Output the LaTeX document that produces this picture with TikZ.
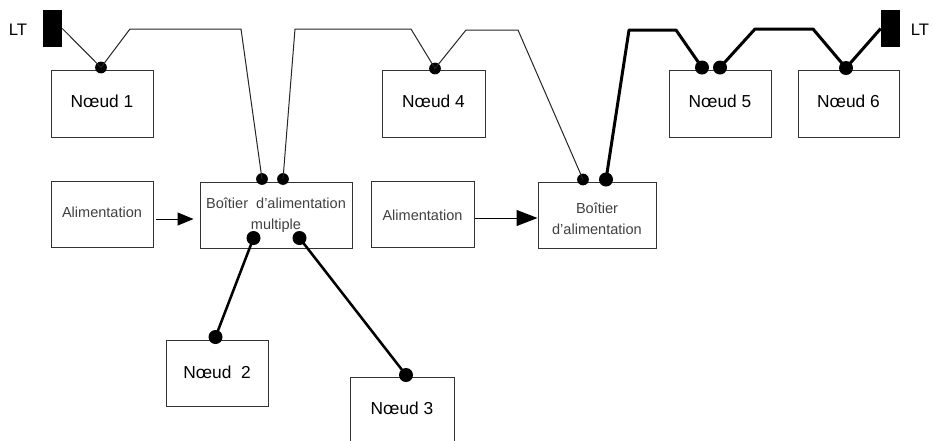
\documentclass[tikz,border=0pt]{standalone}
\usepackage{fontspec}
\setmainfont{Liberation Sans}
\usetikzlibrary{arrows.meta}
\tikzset{
  x=0.75pt,y=-0.75pt,
  nbox/.style={draw=black!80,line width=0.75pt,fill=white,inner sep=0pt,align=center,font=\fontsize{13pt}{15pt}\selectfont,text=black},
  abox/.style={nbox,font=\fontsize{10.9pt}{15.7pt}\selectfont,text=black!75},
  dotS/.style={circle,fill=black,inner sep=0pt,minimum size=8.8pt},
  dotM/.style={circle,fill=black,inner sep=0pt,minimum size=10.5pt},
  term/.style={fill=black,inner sep=0pt,minimum width=14.25pt,minimum height=27.75pt},
  wire/.style={line width=0.75pt,black!85},
  bus/.style={line width=2.25pt,black,line join=round},
  stub/.style={line width=1.9pt,black},
  feed/.style={line width=0.75pt,black,-{Triangle[length=12pt,width=9.75pt]}},
  feedb/.style={line width=0.75pt,black,-{Triangle[length=15.75pt,width=12pt]}},
  lt/.style={inner sep=0pt,font=\fontsize{12.5pt}{14pt}\selectfont}
}
\newcommand{\bx}[7][nbox]{\node[#1,minimum width={(#5-#3)*0.75pt},minimum height={(#6-#4)*0.75pt}] (#2) at ({(#3+#5)/2},{(#4+#6)/2}) {#7};}
\begin{document}
\begin{tikzpicture}
\useasboundingbox (0,0) rectangle (933,440);
\clip (0,0) rectangle (933,440);
\fill[white] (0,0) rectangle (933,440);
% boxes
\bx[nbox,text height=9.3pt,text depth=3.7pt]{n1}{51}{70}{153}{137}{N\oe ud 1}
\bx[nbox,text height=9.3pt,text depth=3.7pt]{n4}{382}{70}{485}{137}{N\oe ud 4}
\bx[nbox,text height=9.3pt,text depth=3.7pt]{n5}{669}{70}{771}{137}{N\oe ud 5}
\bx[nbox,text height=9.3pt,text depth=3.7pt]{n6}{798}{70}{899}{137}{N\oe ud 6}
\bx[nbox,text height=9.3pt,text depth=1.5pt]{n2}{166}{340}{268}{406}{N\oe ud\ \ 2}
\bx[nbox,text height=9.3pt,text depth=3pt]{n3}{350}{377}{454}{443}{N\oe ud 3}
\bx[abox,text height=7.8pt,text depth=3pt]{a1}{51}{181}{153}{247}{Alimentation}
\bx[abox,text height=9.3pt,text depth=0pt]{a2}{371}{181}{474}{247}{Alimentation}
\bx[abox]{bm}{200}{182}{352}{248}{Bo\^itier\ \ d'alimentation\\multiple}
\bx[abox]{bs}{538}{182}{656}{248}{\rule{0pt}{13pt}Bo\^itier\\d'alimentation}
% terminators
\node[term] (ltl) at (52.5,28.5) {};
\node[term] (ltr) at (890.5,28.5) {};
\node[lt] (ltla) at (18,30) {LT};
\node[lt] (ltra) at (920,30) {LT};
% connection points
\node[dotS] (d1) at (101,67.5) {};
\node[dotS] (d4) at (435,68.5) {};
\node[dotS] (dm1) at (262,179) {};
\node[dotS] (dm2) at (283,179) {};
\node[dotS] (ds1) at (583,179.5) {};
\node[dotM] (ds2) at (606,179.5) {};
\node[dotM] (d5a) at (702,67.5) {};
\node[dotM] (d5b) at (720,67.5) {};
\node[dotM] (d6) at (846,68) {};
\node[dotM] (dm3) at (253.5,238) {};
\node[dotM] (dm4) at (299.5,238) {};
\node[dotM] (d2) at (215.5,337) {};
\node[dotM] (d3) at (406,375) {};
% thin trunk
\draw[wire] (ltl.east) -- (d1.center) -- (130,29) -- (241,29) -- (dm1.center);
\draw[wire] (dm2.center) -- (295,29) -- (411,29) -- (d4.center) -- (466,30) -- (518,30) -- (ds1.center);
% thick trunk
\draw[bus] (ds2.center) -- (629,30) -- (676,30) -- (d5a.center);
\draw[bus] (d5b.center) -- (755,29) -- (813,29) -- (d6.center) -- (ltr.west);
% drops
\draw[stub] (dm3.center) -- (d2.center);
\draw[stub] (dm4.center) -- (d3.center);
% power feeds
\draw[feed,shorten <=1.5pt,shorten >=4.5pt] ([yshift=-3.75pt]a1.east) -- ([yshift=-3.75pt]a1.east -| bm.west);
\draw[feedb] ([yshift=-3pt]a2.east) -- ([yshift=-2.25pt]bs.west);
\end{tikzpicture}
\end{document}
